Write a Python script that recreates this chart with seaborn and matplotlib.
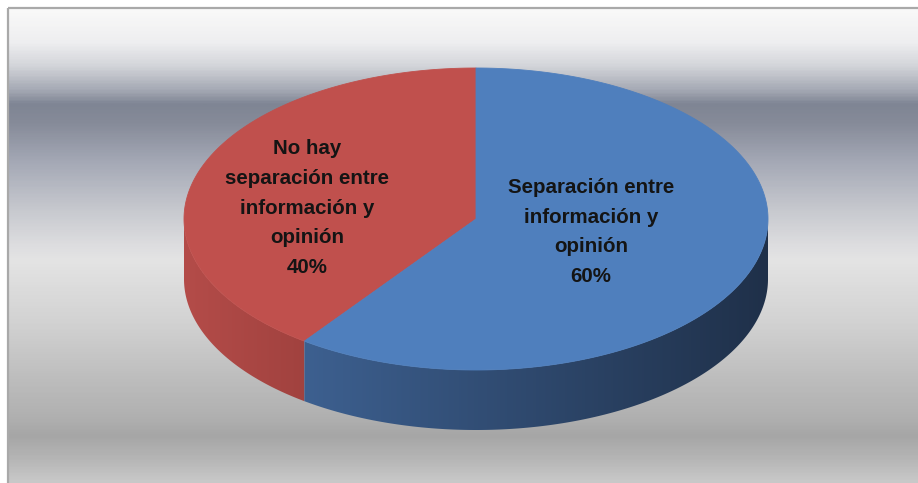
import numpy as np
import matplotlib
matplotlib.use("Agg")
import matplotlib.pyplot as plt
from matplotlib.patches import Polygon, Rectangle
from matplotlib.colors import LinearSegmentedColormap
import seaborn as sns

# Survey shares
categories = ["Separación entre\ninformación y\nopinión",
              "No hay\nseparación entre\ninformación y\nopinión"]
values = [60, 40]
top_colors = ["#4f7fbd", "#c0504d"]
side_shades = [("#3d6090", "#1f3049"), ("#b44c49", "#a1423f")]

sns.set_theme(style="white")
plt.rcParams["font.family"] = ["Liberation Sans Narrow", "Liberation Sans", "DejaVu Sans"]
palette = sns.color_palette(top_colors)

W, H = 918, 483
fig = plt.figure(figsize=(W / 100, H / 100), dpi=100)
ax = fig.add_axes([0, 0, 1, 1])
ax.set_xlim(0, W)
ax.set_ylim(H, 0)
ax.axis("off")

# Chart area: horizontal metallic bands
stops = [(0.00, "#f9f9f9"), (0.07, "#eeeef0"), (0.12, "#d2d4d9"), (0.17, "#a4a8b3"),
         (0.20, "#7f8594"), (0.24, "#868b99"), (0.32, "#a4a8b5"), (0.42, "#c6c8ce"),
         (0.50, "#dedee0"), (0.53, "#e4e4e4"), (0.66, "#d2d2d2"), (0.78, "#bdbdbd"),
         (0.86, "#b0b0b0"), (0.90, "#a6a6a6"), (0.95, "#b6b6b6"), (1.00, "#cacaca")]
bg_cmap = LinearSegmentedColormap.from_list("bands", stops)
x0, y0 = 8, 8
ax.imshow(np.linspace(0, 1, 400).reshape(-1, 1), cmap=bg_cmap, aspect="auto",
          extent=(x0, W + 2, H + 2, y0), zorder=0)
ax.add_patch(Rectangle((x0, y0), W, H, fill=False, edgecolor="#a9a9a9", lw=1.6, zorder=1))

# 3-D pie geometry
cx, cy, rx, ry, depth = 476, 219, 292, 151, 60

def pt(theta):
    # theta in degrees, measured from 12 o'clock, counter-clockwise
    t = np.radians(theta)
    return cx - rx * np.sin(t), cy - ry * np.cos(t)

total = float(sum(values))
spans = []
start = 0.0
# first wedge after 12 o'clock counter-clockwise is the second category
order = [1, 0]
for i in order:
    ext = 360.0 * values[i] / total
    spans.append((i, start, start + ext))
    start += ext

# sides (front half: theta in [90, 270])
for i, a, b in spans:
    lo, hi = max(a, 90), min(b, 270)
    if lo >= hi:
        continue
    th = np.linspace(lo, hi, 200)
    xs, ys = pt(th)
    poly = np.column_stack([np.r_[xs, xs[::-1]], np.r_[ys, ys[::-1] + depth]])
    patch = Polygon(poly, closed=True, facecolor="none", edgecolor="none", zorder=2)
    ax.add_patch(patch)
    c1, c2 = side_shades[i]
    cm = LinearSegmentedColormap.from_list(f"side{i}", [c1, c2])
    xmin, xmax = xs.min(), xs.max()
    grad = np.linspace(0, 1, 256).reshape(1, -1)
    if xs[0] > xs[-1]:
        grad = grad[:, ::-1]
    im = ax.imshow(grad, cmap=cm, aspect="auto",
                   extent=(xmin - 1, xmax + 1, ys.max() + depth + 2, ys.min() - 2), zorder=2)
    im.set_clip_path(patch)

# top faces
for i, a, b in spans:
    th = np.linspace(a, b, 300)
    xs, ys = pt(th)
    poly = np.column_stack([np.r_[cx, xs], np.r_[cy, ys]])
    ax.add_patch(Polygon(poly, closed=True, facecolor=palette[i],
                         edgecolor=palette[i], lw=0.6, zorder=3))

# labels
label_pos = {0: (591, 232), 1: (307, 208)}
for i, a, b in spans:
    x, y = label_pos[i]
    ax.text(x, y, f"{categories[i]}\n{values[i]}%", ha="center", va="center",
            fontsize=14.8, fontweight="bold", color="#141414",
            linespacing=1.72, zorder=4)

fig.savefig("out.png", dpi=100)
